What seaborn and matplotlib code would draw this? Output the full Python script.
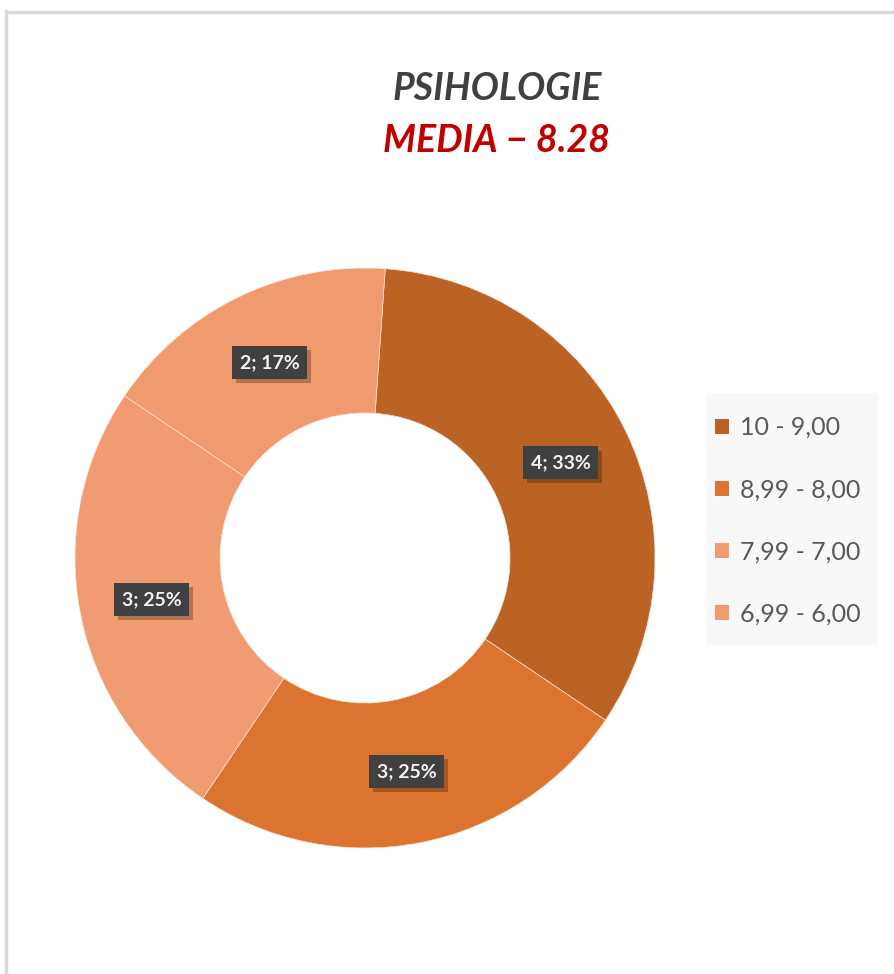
import numpy as np
import seaborn as sns
import matplotlib.pyplot as plt
from matplotlib.patches import Patch, Rectangle
from matplotlib.lines import Line2D
import matplotlib.patheffects as pe

# data
ranges = ['10 - 9,00', '8,99 - 8,00', '7,99 - 7,00', '6,99 - 6,00']
counts = [4, 3, 3, 2]
colors = ['#BA6324', '#DC7430', '#F09B72', '#F09A70']
title = 'PSIHOLOGIE'
subtitle = 'MEDIA \u2212 8.28'

sns.set_theme(style='white')
plt.rcParams['font.family'] = ['Lato', 'DejaVu Sans']

W, H = 894, 974
fig = plt.figure(figsize=(W / 100, H / 100), dpi=100)
fig.patch.set_facecolor('white')

# chart frame (top and left edges visible)
fig.add_artist(Line2D([6/W, 6/W], [0, 1 - 11/H], color='#D9D9D9', lw=2.5))
fig.add_artist(Line2D([6/W, 1], [1 - 12/H, 1 - 12/H], color='#D9D9D9', lw=2.5))

ax = fig.add_axes([75/W, 126/H, 580/W, 580/H])
pal = sns.color_palette(colors)
start = 86
wedges, _ = ax.pie(counts, colors=pal, startangle=start, counterclock=False,
                   radius=1, wedgeprops=dict(width=0.5, edgecolor='#FBE3D6', linewidth=0.5))
ax.set_xlim(-1, 1)
ax.set_ylim(-1, 1)
ax.axis('off')

total = sum(counts)
acc = 0
for c in counts:
    mid = start - 360 * (acc + c / 2) / total
    acc += c
    r = 0.75
    x, y = r * np.cos(np.radians(mid)), r * np.sin(np.radians(mid))
    t = ax.text(x, y, f'{c}; {round(100 * c / total)}%', ha='center', va='center',
                color='#F2F2F2', fontsize=14, fontweight='bold',
                bbox=dict(boxstyle='square,pad=0.4', facecolor='#404040', edgecolor='none'))
    t.get_bbox_patch().set_path_effects([
        pe.SimplePatchShadow(offset=(3, -3), shadow_rgbFace='black', alpha=0.25), pe.Normal()])

fig.text(497/W, 1 - 88/H, title, ha='center', va='center', fontsize=27,
         fontweight='bold', fontstyle='italic', color='#404040')
fig.text(497/W, 1 - 140/H, subtitle, ha='center', va='center', fontsize=27,
         fontweight='bold', fontstyle='italic', color='#C00000')

# legend background
fig.add_artist(Rectangle((707/W, 1 - 645/H), 171/W, 252/H, transform=fig.transFigure,
                         facecolor='#F8F8F8', edgecolor='none', zorder=0))
handles = [Patch(facecolor=c, edgecolor='none') for c in pal]
leg = fig.legend(handles, ranges, loc='upper left', bbox_to_anchor=(715/W, 1 - 416/H),
                 fontsize=18, frameon=False, labelspacing=1.57, handlelength=0.55,
                 handleheight=0.55, handletextpad=0.45, borderpad=0, borderaxespad=0)
for txt in leg.get_texts():
    txt.set_color('#595959')

fig.savefig('out.png', dpi=100)
